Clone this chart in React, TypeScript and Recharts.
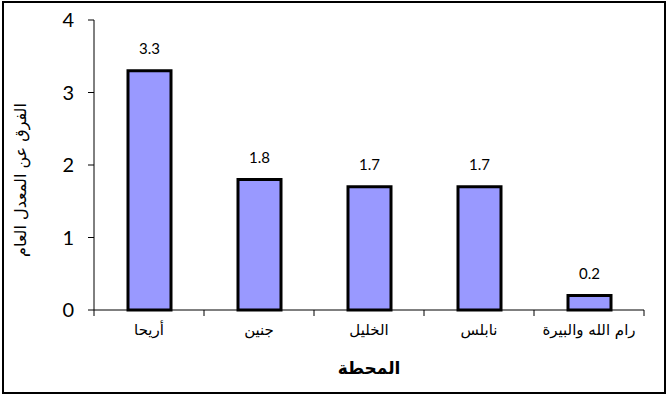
import React from 'react';
import { BarChart, Bar, XAxis, YAxis, LabelList } from 'recharts';

const stations = ['أريحا', 'جنين', 'الخليل', 'نابلس', 'رام الله والبيرة'];
const diffs = [3.3, 1.8, 1.7, 1.7, 0.2];
const yTicks = [0, 1, 2, 3, 4];

const data = stations.map((s, i) => ({ name: s, value: diffs[i] }));

const W = 667;
const H = 395;
const M = { top: 20, right: 23, bottom: 25, left: 34 };
const Y_W = 60;
const PLOT_W = W - M.left - M.right - Y_W;

const CatTick = (props: any) => {
  const { x, y, payload, index } = props;
  const band = PLOT_W / stations.length;
  const axisY = y - 8;
  return (
    <g>
      <line x1={x - band / 2} y1={axisY} x2={x - band / 2} y2={axisY + 6} stroke="#000" strokeWidth={1} />
      {index === stations.length - 1 && (
        <line x1={x + band / 2} y1={axisY} x2={x + band / 2} y2={axisY + 6} stroke="#000" strokeWidth={1} />
      )}
      <text x={x} y={axisY + 25} textAnchor="middle" fontSize={15} fontFamily="DejaVu Sans, Arial" fill="#000" direction="rtl">
        {payload.value}
      </text>
    </g>
  );
};

const YLabel = (props: any) => {
  const { viewBox } = props;
  const cy = viewBox.y + viewBox.height / 2 + 15;
  const cx = 20;
  return (
    <text x={cx} y={cy} transform={`rotate(-90, ${cx}, ${cy})`} textAnchor="middle" dominantBaseline="central" fontSize={16} fill="#000" fontFamily="DejaVu Sans, Arial">
      الفرق عن المعدل العام
    </text>
  );
};

export default function App() {
  return (
    <div style={{ position: 'absolute', left: 0, top: 0, width: W, height: H, background: '#fff' }}>
      <div style={{ position: 'absolute', left: 2, top: 1, width: 660, height: 389, border: '2px solid #000' }} />
      <BarChart width={W} height={H} data={data} margin={M}>
        <XAxis
          dataKey="name"
          tickLine={false}
          axisLine={{ stroke: '#000' }}
          tick={<CatTick />}
          height={60}
          interval={0}
          label={{ value: 'المحطة', position: 'insideBottom', offset: -4, fontSize: 17, fontWeight: 'bold', fill: '#000', fontFamily: 'DejaVu Sans, Arial' }}
        />
        <YAxis
          domain={[0, 4]}
          ticks={yTicks}
          width={Y_W}
          tickSize={6}
          tickMargin={14}
          axisLine={{ stroke: '#000' }}
          tickLine={{ stroke: '#000' }}
          tick={{ fontSize: 20, fill: '#000', fontFamily: 'Lato, Open Sans, sans-serif' }}
          label={<YLabel />}
        />
        <Bar dataKey="value" fill="#9999FF" stroke="#000" strokeWidth={3} barSize={43} isAnimationActive={false}>
          <LabelList dataKey="value" position="top" offset={17} fontSize={15} fill="#000" fontFamily="Lato, Open Sans, sans-serif" />
        </Bar>
      </BarChart>
    </div>
  );
}
